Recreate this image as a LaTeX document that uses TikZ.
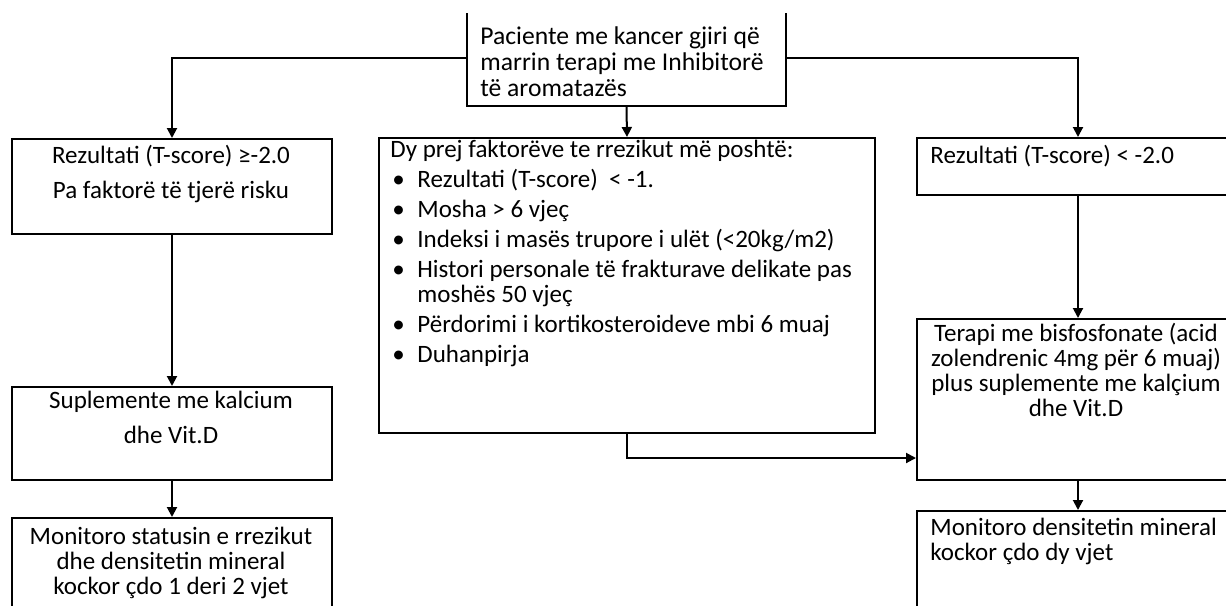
\documentclass[tikz,border=0pt]{standalone}
\usepackage{fontspec}
\setmainfont{Carlito}
\usetikzlibrary{arrows.meta}
\newcommand{\itm}{\makebox[13.5pt][l]{\hspace{1pt}•}}

\begin{document}
\begin{tikzpicture}[x=0.5pt,y=-0.5pt,
box/.style={draw, line width=1pt, anchor=north west, inner sep=0pt},
txt/.style={inner sep=0pt, align=center, font=\fontsize{12.5}{12.5}\selectfont},
link/.style={line width=1pt},
arr/.style={line width=1pt, -{Triangle[width=5pt,length=5pt]}}]
\useasboundingbox (0,0) rectangle (1226,605);
\clip (0,13) rectangle (1226,605);
\coordinate (split) at (0,58);
\coordinate (join) at (0,458);
% top (text nodes are anchored on their last baseline)
\node[box, minimum width=159.5pt, minimum height=62.5pt] (start) at (466,-20) {};
\node[txt, anchor=base west, align=left, font=\fontsize{12.8}{12.8}\selectfont] (startTxt) at (480,96) {Paciente me kancer gjiri që\\marrin terapi me Inhibitorë\\të aromatazës};
% left column
\node[box, minimum width=160pt, minimum height=47.5pt] (lowRisk) at (11,138) {};
\node[txt, anchor=base] (lowRiskTxt) at (171,198) {Rezultati (T-score) ≥-2.0\\[5pt]Pa faktorë të tjerë risku};
\node[box, minimum width=160pt, minimum height=46.5pt] (calc) at (11,386) {};
\node[txt, anchor=base] (calcTxt) at (171,443) {Suplemente me kalcium\\[5pt]dhe Vit.D};
\node[box, minimum width=160pt, minimum height=61.5pt] (monA) at (11,517) {};
\node[txt, anchor=base] (monATxt) at (171,594) {Monitoro statusin e rrezikut\\dhe densitetin mineral\\kockor çdo 1 deri 2 vjet};
% middle
\node[box, minimum width=248pt, minimum height=147.5pt] (factors) at (378,137) {};
\node[txt, anchor=base west, align=left] (factorsTxt) at (390,362) {Dy prej faktorëve te rrezikut më poshtë:\\[2.5pt]
\itm Rezultati (T-score)\ \ < -1.\\[2.5pt]
\itm Mosha > 6 vjeç\\[2.5pt]
\itm Indeksi i masës trupore i ulët (<20kg/m2)\\[2.5pt]
\itm Histori personale të frakturave delikate pas\\
\hspace*{13.5pt}moshës 50 vjeç\\[2.5pt]
\itm Përdorimi i kortikosteroideve mbi 6 muaj\\[2.5pt]
\itm Duhanpirja};
% right column
\node[box, minimum width=161pt, minimum height=28.5pt] (highRisk) at (916,137) {};
\node[txt, anchor=base west] (highRiskTxt) at (930,163) {Rezultati (T-score) < -2.0};
\node[box, minimum width=161pt, minimum height=80.5pt] (therapy) at (916,318) {};
\node[txt, anchor=base] (therapyTxt) at (1076,416) {Terapi me bisfosfonate (acid\\zolendrenic 4mg për 6 muaj)\\plus suplemente me kalçium\\dhe Vit.D};
\node[box, minimum width=161pt, minimum height=65pt] (monB) at (916,510) {};
\node[txt, anchor=base west, align=left] (monBTxt) at (930,560) {Monitoro densitetin mineral\\kockor çdo dy vjet};
% connectors
\draw[arr] (start.west |- split) -| (lowRisk.north);
\draw[arr] (start.east |- split) -| (highRisk.north);
\draw[arr] (start.south) -- (factors.north);
\draw[arr] (lowRisk.south) -- (calc.north);
\draw[arr] (calc.south) -- (monA.north);
\draw[arr] (highRisk.south) -- (therapy.north);
\draw[arr] (therapy.south) -- (monB.north);
\draw[arr] (factors.south) |- (therapy.west |- join);
\end{tikzpicture}
\end{document}
